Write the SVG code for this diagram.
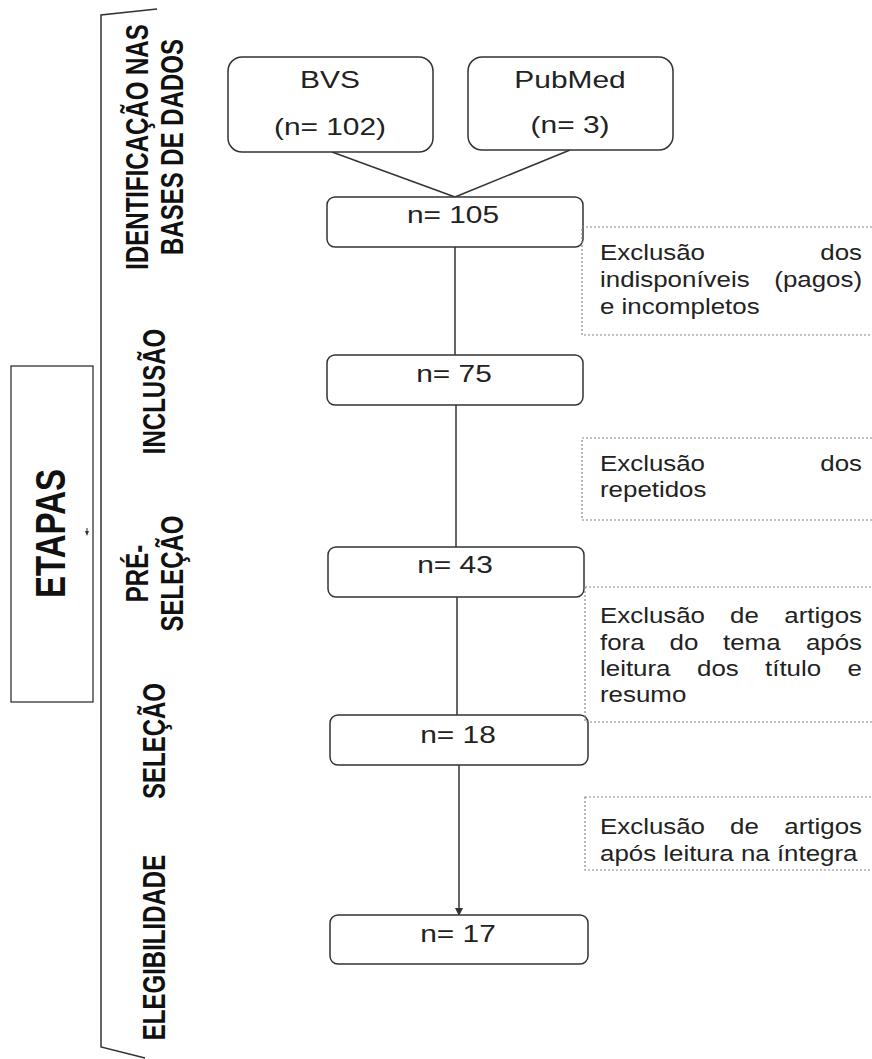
<svg xmlns="http://www.w3.org/2000/svg" width="872" height="1059" viewBox="0 0 872 1059">
<defs>
<style>
.node{fill:#fff;stroke:#333;stroke-width:1.5}
.ex{fill:none;stroke:#888;stroke-width:1.2;stroke-dasharray:2 2}
.conn{fill:none;stroke:#333;stroke-width:1.5}
.nt{font-family:"Liberation Sans",Arial,sans-serif;font-size:23px;fill:#222;text-anchor:middle}
.et{font-family:"Liberation Sans",Arial,sans-serif;font-size:21.5px;fill:#222}
.lab{font-family:"Liberation Sans",Arial,sans-serif;font-size:24px;font-weight:bold;fill:#111;text-anchor:middle}
.end{text-anchor:end}
</style>
<marker id="arr" markerWidth="8" markerHeight="8" refX="7" refY="4" orient="auto" markerUnits="userSpaceOnUse">
<path d="M0,0 L8,4 L0,8 z" fill="#333"/>
</marker>
</defs>
<rect width="872" height="1059" fill="#fff"/>

<g id="bracket">
<path class="conn" d="M157,9 L101,15 L101,1047 L145,1058"/>
</g>

<g id="etapas">
<rect x="11" y="366" width="82" height="336" fill="#fff" stroke="#222" stroke-width="1.2"/>
<text class="lab" style="font-size:33px" transform="translate(65,533.5) scale(1.28,1) rotate(-90)">ETAPAS</text>
<path d="M87,528 L87,531" stroke="#333" stroke-width="1"/>
<path d="M85,531 L89,531 L87,536 z" fill="#333"/>
</g>

<g id="stage-labels">
<text class="lab" transform="translate(148,147) scale(1.3,1) rotate(-90)">IDENTIFICAÇÃO NAS</text>
<text class="lab" transform="translate(183,147) scale(1.3,1) rotate(-90)">BASES DE DADOS</text>
<text class="lab" transform="translate(165,391.5) scale(1.3,1) rotate(-90)">INCLUSÃO</text>
<text class="lab" transform="translate(148,573.5) scale(1.3,1) rotate(-90)">PRÉ-</text>
<text class="lab" transform="translate(183,573.5) scale(1.3,1) rotate(-90)">SELEÇÃO</text>
<text class="lab" transform="translate(165,741) scale(1.3,1) rotate(-90)">SELEÇÃO</text>
<text class="lab" transform="translate(165,947.5) scale(1.3,1) rotate(-90)">ELEGIBILIDADE</text>
</g>

<g id="connectors">
<path class="conn" d="M332,152 L455,197"/>
<path class="conn" d="M570,150 L455,197"/>
<path class="conn" d="M455,247 L455,355"/>
<path class="conn" d="M456,405 L456,547"/>
<path class="conn" d="M457,597 L457,715"/>
<path class="conn" d="M459,765 L459,915" marker-end="url(#arr)"/>
</g>

<g id="node-bvs">
<rect class="node" x="228" y="57" width="205" height="95" rx="14"/>
<text class="nt" transform="translate(330,88) scale(1.3,1)">BVS</text>
<text class="nt" transform="translate(330,135) scale(1.3,1)">(n= 102)</text>
</g>
<g id="node-pubmed">
<rect class="node" x="468" y="57" width="205" height="93" rx="14"/>
<text class="nt" transform="translate(570,88) scale(1.3,1)">PubMed</text>
<text class="nt" transform="translate(570,133) scale(1.3,1)">(n= 3)</text>
</g>
<g id="node-105">
<rect class="node" x="327" y="197" width="256" height="50" rx="8"/>
<text class="nt" transform="translate(453,223) scale(1.3,1)">n= 105</text>
</g>
<g id="node-75">
<rect class="node" x="327" y="355" width="256" height="50" rx="8"/>
<text class="nt" transform="translate(454,382) scale(1.3,1)">n= 75</text>
</g>
<g id="node-43">
<rect class="node" x="328" y="547" width="256" height="50" rx="8"/>
<text class="nt" transform="translate(455,573) scale(1.3,1)">n= 43</text>
</g>
<g id="node-18">
<rect class="node" x="330" y="715" width="258" height="50" rx="8"/>
<text class="nt" transform="translate(458,743) scale(1.3,1)">n= 18</text>
</g>
<g id="node-17">
<rect class="node" x="330" y="915" width="258" height="49" rx="8"/>
<text class="nt" transform="translate(458,942) scale(1.3,1)">n= 17</text>
</g>

<g id="excl-1">
<rect class="ex" x="582" y="227" width="300" height="108"/>
<text class="et" transform="translate(600,260) scale(1.204,1)">Exclusão</text>
<text class="et end" transform="translate(862,260) scale(1.204,1)">dos</text>
<text class="et" transform="translate(600,287) scale(1.204,1)">indisponíveis</text>
<text class="et end" transform="translate(862,287) scale(1.204,1)">(pagos)</text>
<text class="et" transform="translate(600,314) scale(1.204,1)">e incompletos</text>
</g>
<g id="excl-2">
<rect class="ex" x="582" y="438" width="300" height="82"/>
<text class="et" transform="translate(600,471) scale(1.204,1)">Exclusão</text>
<text class="et end" transform="translate(862,471) scale(1.204,1)">dos</text>
<text class="et" transform="translate(600,497) scale(1.204,1)">repetidos</text>
</g>
<g id="excl-3">
<rect class="ex" x="585" y="587" width="300" height="135"/>
<text class="et" transform="translate(600,623) scale(1.204,1)">Exclusão</text>
<text class="et" transform="translate(730,623) scale(1.204,1)">de</text>
<text class="et end" transform="translate(862,623) scale(1.204,1)">artigos</text>
<text class="et" transform="translate(600,650) scale(1.204,1)">fora</text>
<text class="et" transform="translate(669.5,650) scale(1.204,1)">do</text>
<text class="et" transform="translate(723,650) scale(1.204,1)">tema</text>
<text class="et end" transform="translate(862,650) scale(1.204,1)">após</text>
<text class="et" transform="translate(600,676) scale(1.204,1)">leitura</text>
<text class="et" transform="translate(697,676) scale(1.204,1)">dos</text>
<text class="et" transform="translate(765,676) scale(1.204,1)">título</text>
<text class="et end" transform="translate(862,676) scale(1.204,1)">e</text>
<text class="et" transform="translate(600,702) scale(1.204,1)">resumo</text>
</g>
<g id="excl-4">
<rect class="ex" x="585" y="797" width="300" height="73"/>
<text class="et" transform="translate(600,834) scale(1.204,1)">Exclusão</text>
<text class="et" transform="translate(730,834) scale(1.204,1)">de</text>
<text class="et end" transform="translate(862,834) scale(1.204,1)">artigos</text>
<text class="et" transform="translate(600,861) scale(1.204,1)">após leitura na íntegra</text>
</g>
</svg>
